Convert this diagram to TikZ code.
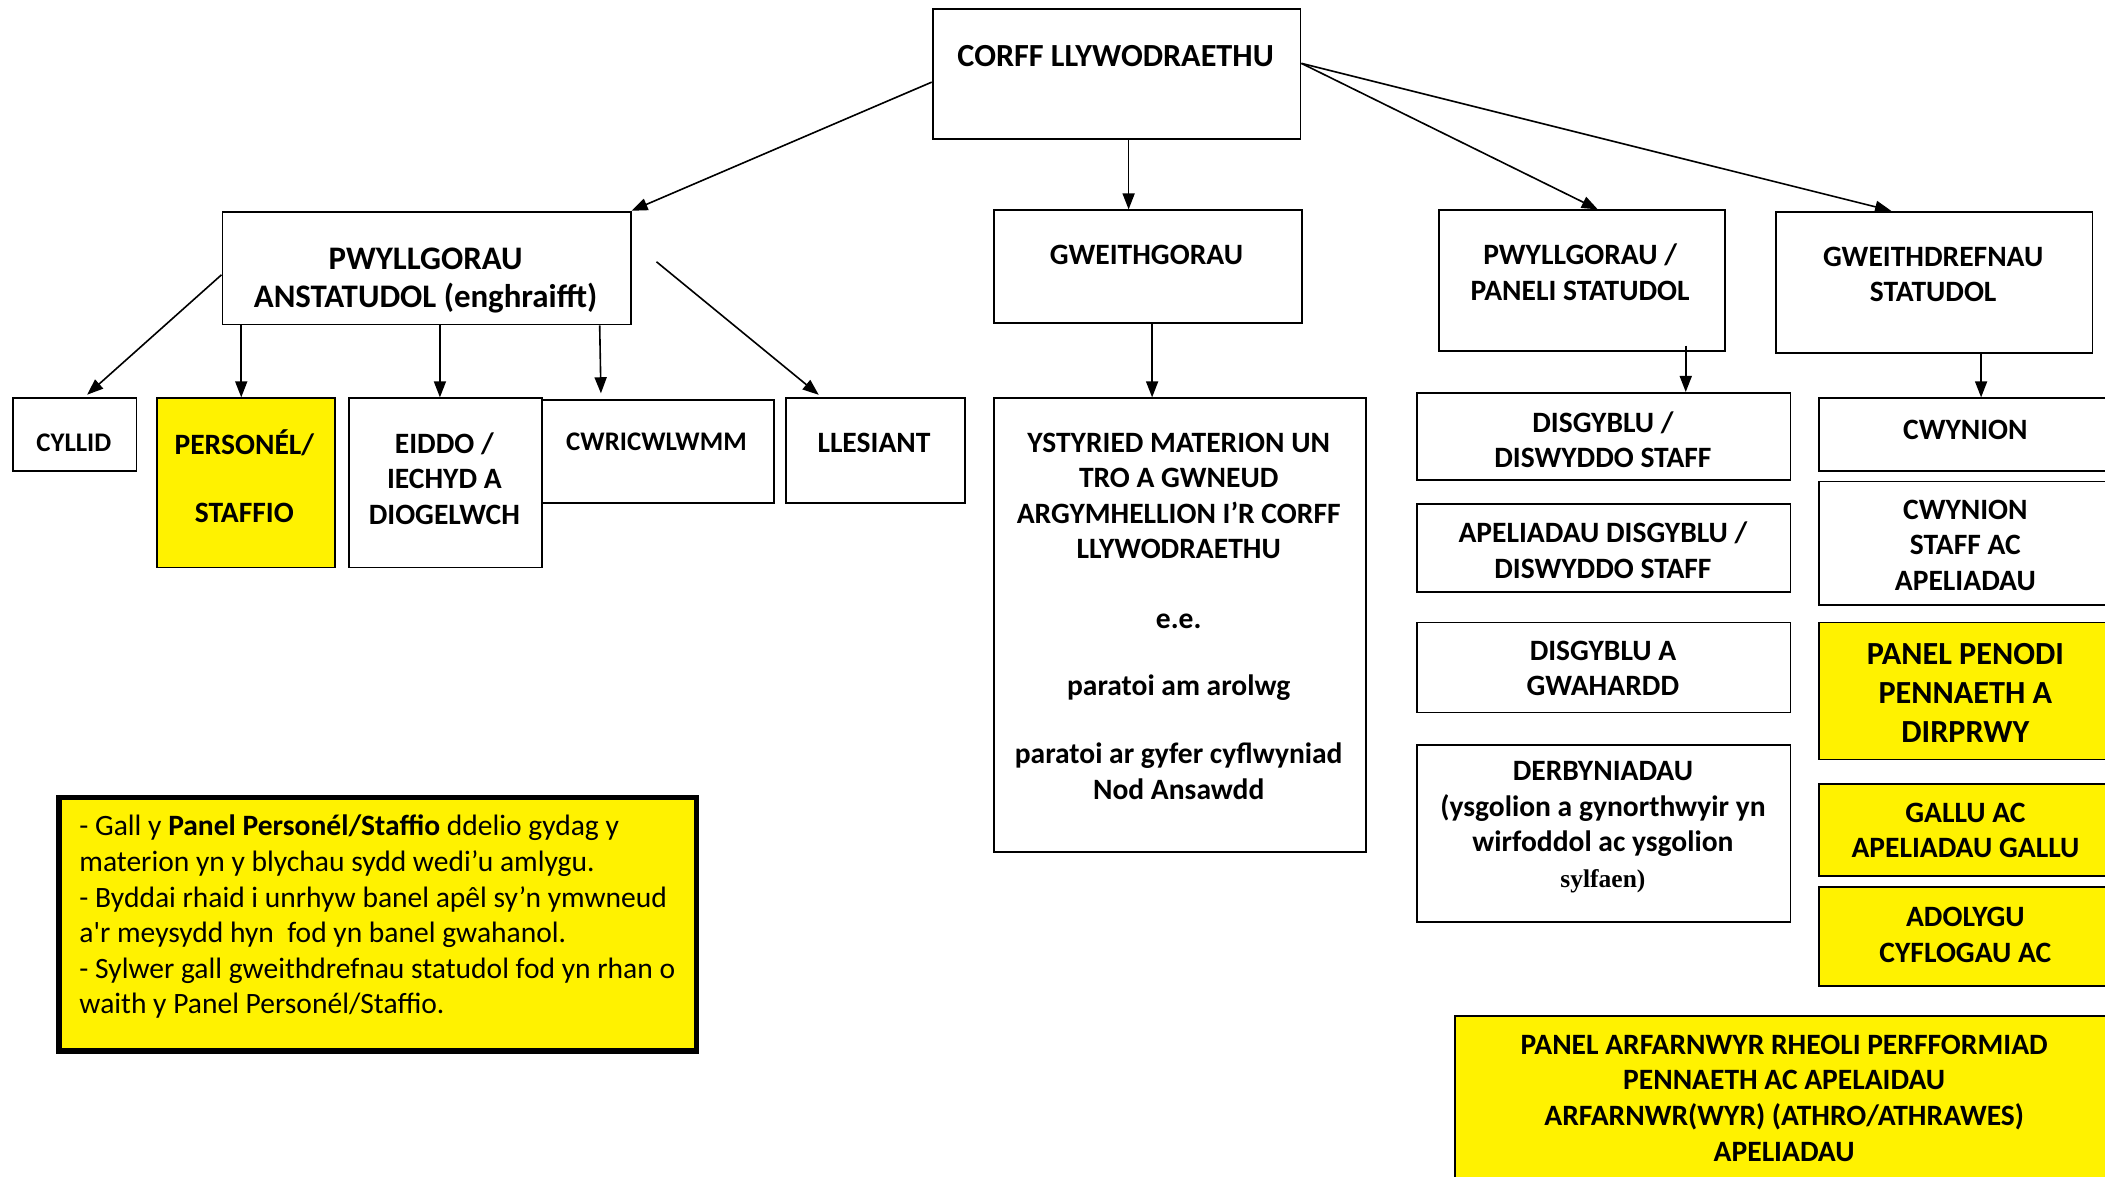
\documentclass[tikz,border=0pt]{standalone}
\usepackage{fontspec}
\setmainfont{Carlito}
\newfontfamily\serifb{Liberation Serif}
\usetikzlibrary{arrows.meta}
\begin{document}
\begin{tikzpicture}[x=1pt,y=-1pt,
  box/.style={draw=black, line width=1.4pt, inner sep=0pt, anchor=north west},
  ybox/.style={box, fill=yellow},
  lbl/.style={font=\fontsize{22}{26.5}\selectfont\bfseries, align=center, inner sep=0pt},
  lblsm/.style={lbl, font=\fontsize{20}{24}\selectfont\bfseries},
  lblbig/.style={lbl, font=\fontsize{24}{29}\selectfont\bfseries},
  conn/.style={line width=1.2pt, -{Triangle[length=12pt,width=9pt]}},
]
\useasboundingbox (0,0) rectangle (1568,876.7);
% boxes
\node[box, minimum width=274pt, minimum height=97pt] (corff) at (694,6) {};
\node[box, minimum width=304pt, minimum height=84pt] (pwa) at (165,157) {};
\node[box, minimum width=229pt, minimum height=84pt] (gw) at (740,156) {};
\node[box, minimum width=213pt, minimum height=105pt] (ps) at (1071,156) {};
\node[box, minimum width=236pt, minimum height=105pt] (gs) at (1322,157) {};
\node[box, minimum width=92pt, minimum height=54pt] (cyl) at (9,296) {};
\node[ybox, minimum width=133pt, minimum height=126pt] (pers) at (116,296) {};
\node[box, minimum width=144pt, minimum height=126pt] (eid) at (259,296) {};
\node[box, minimum width=173pt, minimum height=77pt] (cw) at (403,297) {};
\node[box, minimum width=133pt, minimum height=78pt] (lles) at (585,296) {};
\node[box, minimum width=277pt, minimum height=338pt] (ys) at (740,296) {};
\node[box, minimum width=278pt, minimum height=65pt] (dis) at (1055,292) {};
\node[box, minimum width=278pt, minimum height=65pt] (ape) at (1055,375) {};
\node[box, minimum width=278pt, minimum height=67pt] (gwa) at (1055,463) {};
\node[box, minimum width=278pt, minimum height=132pt] (der) at (1055,554) {};
\node[box, minimum width=221pt, minimum height=54pt] (cwy) at (1354,296) {};
\node[box, minimum width=221pt, minimum height=92pt] (cws) at (1354,358) {};
\node[ybox, minimum width=221pt, minimum height=102pt] (pen) at (1354,463) {};
\node[ybox, minimum width=221pt, minimum height=69pt] (gal) at (1354,583) {};
\node[ybox, minimum width=221pt, minimum height=74pt] (ado) at (1354,660) {};
\node[ybox, minimum width=492pt, minimum height=140pt] (paf) at (1083,756) {};
\node[ybox, line width=4pt, minimum width=475pt, minimum height=189pt] (note) at (42,592) {};
% labels
\node[lbl, font=\fontsize{24}{29}\selectfont\bfseries] (tcorff) at (831,42) {CORFF LLYWODRAETHU};
\node[lbl, font=\fontsize{24.5}{28}\selectfont\bfseries] (tpwa) at (317,209) {PWYLLGORAU\\ANSTATUDOL (enghraifft)};
\node[lbl] (tgw) at (854,190) {GWEITHGORAU};
\node[lbl] (tps) at (1177,203) {PWYLLGORAU /\\PANELI STATUDOL};
\node[lbl] (tgs) at (1440,204.5) {GWEITHDREFNAU\\STATUDOL};
\node[lblsm] (tcyl) at (55,330) {CYLLID};
\node[lbl] (tpers) at (182,354.5) {PERSONÉL/\\[24pt]STAFFIO};
\node[lbl] (teid) at (331,356.5) {EIDDO /\\IECHYD A\\DIOGELWCH};
\node[lblsm] (tcw) at (489,329) {CWRICWLWMM};
\node[lbl] (tlles) at (651,330) {LLESIANT};
\node[lbl] (tys) at (878,459) {YSTYRIED MATERION UN\\TRO A GWNEUD\\ARGYMHELLION I’R CORFF\\LLYWODRAETHU\\[25pt]e.e.\\[24pt]paratoi am arolwg\\[24pt]paratoi ar gyfer cyflwyniad\\Nod Ansawdd};
\node[lbl] (tdis) at (1194,327.5) {DISGYBLU /\\DISWYDDO STAFF};
\node[lbl] (tape) at (1194,410) {APELIADAU DISGYBLU /\\DISWYDDO STAFF};
\node[lbl] (tgwa) at (1194,498) {DISGYBLU A\\GWAHARDD};
\node[lbl] (tder) at (1194,616) {DERBYNIADAU\\(ysgolion a gynorthwyir yn\\wirfoddol ac ysgolion\\{\serifb\bfseries\fontsize{19}{24}\selectfont sylfaen)}};
\node[lbl] (tcwy) at (1464,320) {CWYNION};
\node[lbl] (tcws) at (1464,406) {CWYNION\\STAFF AC\\APELIADAU};
\node[lblbig] (tpen) at (1464,516) {PANEL PENODI\\PENNAETH A\\DIRPRWY};
\node[lbl] (tgal) at (1464,618.5) {GALLU AC\\APELIADAU GALLU};
\node[lbl] (tado) at (1464,696.5) {ADOLYGU\\CYFLOGAU AC};
\node[lbl] (tpaf) at (1329,818) {PANEL ARFARNWYR RHEOLI PERFFORMIAD\\PENNAETH AC APELAIDAU\\ARFARNWR(WYR) (ATHRO/ATHRAWES)\\APELIADAU};
\node[lbl, font=\fontsize{22}{26.5}\selectfont, align=left, anchor=west] (tnote) at (59,683) {- Gall y \textbf{Panel Personél/Staffio} ddelio gydag y\\materion yn y blychau sydd wedi’u amlygu.\\- Byddai rhaid i unrhyw banel apêl sy’n ymwneud\\a\textquotesingle r meysydd hyn\ \ fod yn banel gwahanol.\\- Sylwer gall gweithdrefnau statudol fod yn rhan o\\waith y Panel Personél/Staffio.};
% connectors
\coordinate (llstart) at (489,195);
\draw[conn] ([yshift=-6pt]corff.west) -- (pwa.north east);
\draw[conn] ([xshift=9pt]corff.south) -- ([xshift=9pt]corff.south |- gw.north);
\draw[conn] ([yshift=8pt]corff.east) -- ([xshift=12pt]ps.north);
\draw[conn] ([yshift=8pt]corff.east) -- ([xshift=-32pt]gs.north);
\draw[conn, shorten >=3pt] ([yshift=-5pt]pwa.west) -- ([xshift=7pt]cyl.north);
\draw[conn] ([xshift=-138pt]pwa.south) -- ([xshift=-138pt]pwa.south |- pers.north);
\draw[conn] ([xshift=10pt]pwa.south) -- ([xshift=10pt]pwa.south |- eid.north);
\draw[conn, shorten >=4pt] ([xshift=129pt]pwa.south) -- ([xshift=130pt]pwa.south |- cw.north);
\draw[conn, shorten >=3pt] (llstart) -- ([xshift=-40pt]lles.north);
\draw[conn] ([xshift=3pt]gw.south) -- ([xshift=3pt]gw.south |- ys.north);
\draw[conn] ([xshift=77.5pt,yshift=5pt]ps.south) -- ([xshift=77.5pt]ps.south |- dis.north);
\draw[conn] ([xshift=35pt]gs.south) -- ([xshift=35pt]gs.south |- cwy.north);
\end{tikzpicture}
\end{document}
